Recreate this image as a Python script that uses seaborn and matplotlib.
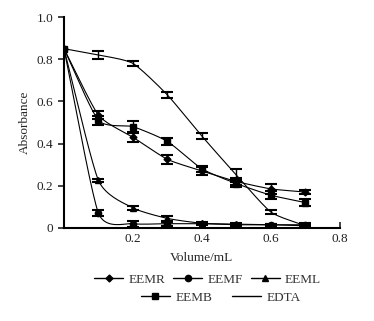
import numpy as np
import pandas as pd
import matplotlib
matplotlib.use("Agg")
import matplotlib.pyplot as plt
import seaborn as sns
from matplotlib.lines import Line2D

volume = [0.0, 0.1, 0.2, 0.3, 0.4, 0.5, 0.6, 0.7]
eemr = [0.85, 0.535, 0.43, 0.325, 0.27, 0.22, 0.185, 0.17]
eemr_err = [0.0, 0.02, 0.022, 0.02, 0.02, 0.015, 0.022, 0.01]
eemf = [0.85, 0.07, 0.02, 0.02, 0.02, 0.015, 0.015, 0.015]
eemf_err = [0.0, 0.015, 0.015, 0.01, 0.005, 0.005, 0.005, 0.01]
eeml = [0.85, 0.225, 0.095, 0.045, 0.022, 0.018, 0.015, 0.01]
eeml_err = [0.0, 0.008, 0.008, 0.01, 0.005, 0.005, 0.005, 0.005]
eemb = [0.85, 0.51, 0.48, 0.41, 0.28, 0.21, 0.155, 0.12]
eemb_err = [0.0, 0.02, 0.025, 0.015, 0.015, 0.015, 0.02, 0.015]
edta = [0.85, 0.82, 0.78, 0.63, 0.435, 0.25, 0.075, 0.01]
edta_err = [0.0, 0.02, 0.01, 0.015, 0.015, 0.03, 0.01, 0.005]

series = [("EEMR", eemr, eemr_err, "D", 3.5),
          ("EEMF", eemf, eemf_err, "o", 4.5),
          ("EEML", eeml, eeml_err, "^", 4.5),
          ("EEMB", eemb, eemb_err, "s", 4.5),
          ("EDTA", edta, edta_err, None, 0)]

sns.set_theme(style="ticks")
plt.rcParams['font.family'] = ['Liberation Serif', 'DejaVu Serif']

def smooth(xs, ys, n=20):
    # Catmull-Rom style smoothing of the connecting line (display only)
    xs = np.asarray(xs, float); ys = np.asarray(ys, float)
    px = np.concatenate([[2*xs[0]-xs[1]], xs, [2*xs[-1]-xs[-2]]])
    py = np.concatenate([[2*ys[0]-ys[1]], ys, [2*ys[-1]-ys[-2]]])
    ox, oy = [], []
    t = np.linspace(0, 1, n, endpoint=False)
    for i in range(1, len(px)-2):
        for arr, out in ((px, ox), (py, oy)):
            p0, p1, p2, p3 = arr[i-1], arr[i], arr[i+1], arr[i+2]
            m1 = (p2 - p0) / 2 * 0.6
            m2 = (p3 - p1) / 2 * 0.6
            h00 = 2*t**3 - 3*t**2 + 1
            h10 = t**3 - 2*t**2 + t
            h01 = -2*t**3 + 3*t**2
            h11 = t**3 - t**2
            out.extend(h00*p1 + h10*m1 + h01*p2 + h11*m2)
    ox.append(xs[-1]); oy.append(ys[-1])
    return np.array(ox), np.array(oy)

fig = plt.figure(figsize=(3.74, 3.21), dpi=100)
ax = fig.add_axes([0.171, 0.290, 0.738, 0.657])

for name, ys, err, mk, ms in series:
    sx, sy = smooth(volume, ys)
    sns.lineplot(x=sx, y=sy, ax=ax, color="black", lw=0.8, sort=False, estimator=None)
    ax.errorbar(volume[1:], ys[1:], yerr=err[1:], fmt="none", ecolor="black",
                elinewidth=1.0, capsize=4, capthick=1.5)
    if mk:
        ax.plot(volume, ys, linestyle="none", marker=mk, ms=ms, color="black")

ax.set_xlim(0, 0.8)
ax.set_ylim(0, 1.0)
ax.set_xticks([0.2, 0.4, 0.6, 0.8])
ax.set_xticklabels(["0.2", "0.4", "0.6", "0.8"])
ax.set_yticks([0, 0.2, 0.4, 0.6, 0.8, 1.0])
ax.set_yticklabels(["0", "0.2", "0.4", "0.6", "0.8", "1.0"])
ax.tick_params(axis="both", labelsize=9.5, colors="#222222", width=1.2, length=4)
ax.tick_params(axis="x", direction="in")
ax.tick_params(axis="y", direction="out")
for s in ("top", "right"):
    ax.spines[s].set_visible(False)
for s in ("left", "bottom"):
    ax.spines[s].set_linewidth(1.5)
    ax.spines[s].set_color("black")
ax.set_xlabel("Volume/mL", fontsize=9.5, labelpad=5)
ax.set_ylabel("Absorbance", fontsize=9.5, labelpad=4)

def handle(mk, ms):
    return Line2D([], [], color="black", lw=1.0, marker=mk if mk else None, ms=ms)

h1 = [handle(mk, ms) for _, _, _, mk, ms in series[:3]]
l1 = [s[0] for s in series[:3]]
h2 = [handle(mk, ms) for _, _, _, mk, ms in series[3:]]
l2 = [s[0] for s in series[3:]]
kw = dict(frameon=False, fontsize=9.5, handlelength=2.2, handletextpad=0.4,
          columnspacing=0.6, borderpad=0, labelcolor="#333333")
fig.legend(h1, l1, ncol=3, loc="center", bbox_to_anchor=(0.555, 0.128), **kw)
fig.legend(h2, l2, ncol=2, loc="center", bbox_to_anchor=(0.59, 0.072),
           **dict(kw, columnspacing=1.5))

fig.savefig("out.png", dpi=100)
